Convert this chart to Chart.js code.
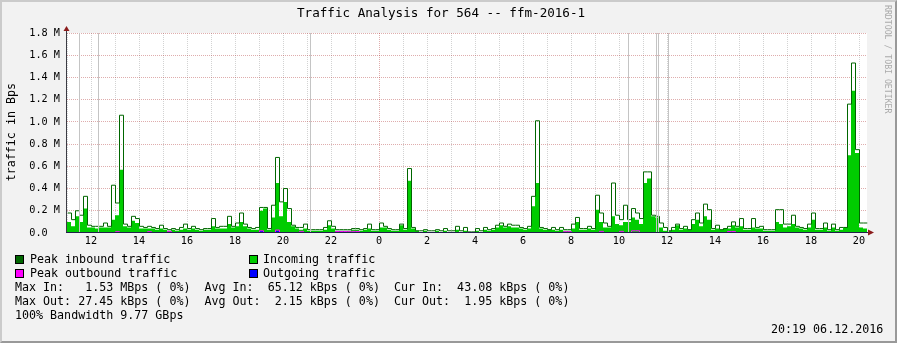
<!DOCTYPE html>
<html>
<head>
<meta charset="utf-8">
<script src="https://cdn.jsdelivr.net/npm/chart.js@4.4.1/dist/chart.umd.min.js"></script>
<style>
body { margin: 0; }
#wrap { position: relative; width: 897px; height: 343px; background: #f2f2f2; overflow: hidden;
        font-family: 'DejaVu Sans Mono', monospace; }
#wrap canvas { position: absolute; left: 0; top: 0; }
.t { position: absolute; white-space: pre; color: #000; font-size: 11.66px; line-height: 14px; }
.sw { position: absolute; width: 7px; height: 7px; border: 1px solid #000; }
#frame { position: absolute; left: 0; top: 0; width: 897px; height: 343px; box-sizing: border-box;
         border-top: 2px solid #cbcbcb; border-left: 2px solid #cbcbcb;
         border-right: 2px solid #999; border-bottom: 2px solid #999; pointer-events: none; }
</style>
</head>
<body>
<div id="wrap">
<canvas id="traffic" width="897" height="343"></canvas>
<div class="t" style="left:297px;top:5px;font-size:12.6px;line-height:16px;">Traffic Analysis for 564 -- ffm-2016-1</div>
<div class="t" style="left:4px;top:83px;writing-mode:vertical-rl;transform:rotate(180deg);">traffic in Bps</div>
<div class="t" style="left:883px;top:5px;writing-mode:vertical-rl;font-size:8.2px;line-height:10px;color:#aaa;">RRDTOOL / TOBI OETIKER</div>

<div class="sw" style="left:15px;top:255px;background:#006600;"></div>
<div class="t" style="left:30px;top:252px;">Peak inbound traffic</div>
<div class="sw" style="left:249px;top:255px;background:#00cc00;"></div>
<div class="t" style="left:263px;top:252px;">Incoming traffic</div>
<div class="sw" style="left:15px;top:269px;background:#ff00ff;"></div>
<div class="t" style="left:30px;top:266px;">Peak outbound traffic</div>
<div class="sw" style="left:249px;top:269px;background:#0000ff;"></div>
<div class="t" style="left:263px;top:266px;">Outgoing traffic</div>
<div class="t" style="left:15px;top:280px;">Max In:   1.53 MBps ( 0%)  Avg In:  65.12 kBps ( 0%)  Cur In:  43.08 kBps ( 0%)</div>
<div class="t" style="left:15px;top:294px;">Max Out: 27.45 kBps ( 0%)  Avg Out:  2.15 kBps ( 0%)  Cur Out:  1.95 kBps ( 0%)</div>
<div class="t" style="left:15px;top:308px;">100% Bandwidth 9.77 GBps</div>
<div class="t" style="left:771px;top:322px;">20:19 06.12.2016</div>
<div id="frame"></div>
</div>
<script>
// time axis: hours since midnight of the first day, one sample every 10 minutes
var startHour = 11;
var stepHour = 1 / 6;

// kBps, one value per sample
var peakIn = [
  180,120,200,160,330,70,60,60,60,90, 60,430,270,1060,80,60,150,130,60,50,
  60,50,40,70,40,30,40,30,50,80, 40,60,40,30,40,40,130,50,60,60,
  150,60,90,180,80,50,40,50,230,230, 40,250,680,280,400,220,70,50,50,80,
  30,30,30,30,50,110,60,30,30,30, 30,40,40,30,40,80,30,30,90,60,
  40,30,30,80,40,580,50,20,20,30, 20,20,30,20,40,20,20,60,20,50,
  10,10,40,20,50,30,40,70,90,60, 80,70,70,50,40,60,330,1010,50,40,
  30,50,30,50,30,30,80,140,40,40, 60,40,340,180,90,60,450,160,120,250,
  120,220,180,130,550,550,160,150,90,50, 20,50,80,40,60,30,120,180,90,260,
  210,40,70,30,40,60,100,60,130,40, 40,130,50,60,30,30,30,210,210,80,
  80,160,60,50,40,80,180,40,40,90, 30,80,30,50,50,1160,1530,750,90,90
];
var avgIn = [
  100,60,150,100,220,50,50,40,50,50, 50,120,160,570,60,50,110,90,40,40,
  40,40,30,40,30,20,30,20,30,40, 30,40,30,20,30,30,60,40,40,40,
  80,50,60,100,60,40,30,30,200,220, 30,140,450,150,280,100,60,40,30,40,
  20,20,20,20,30,70,40,20,20,20, 20,30,30,20,30,40,20,20,50,50,
  30,20,20,70,30,470,40,20,10,20, 10,10,20,10,20,10,10,30,10,20,
  10,10,20,10,30,20,30,50,70,50, 60,50,50,40,30,40,240,450,40,30,
  30,30,20,30,20,20,40,100,30,30, 40,30,210,100,50,50,150,80,70,100,
  100,140,120,80,450,490,150,140,50,20, 20,30,70,30,40,30,80,120,60,150,
  120,30,40,30,40,40,70,50,60,30, 30,50,40,40,20,20,20,100,80,50,
  60,80,50,40,30,50,120,30,30,50, 20,50,20,30,50,700,1280,720,50,40
];
var avgOut = [
  2,2,2,2,2,2,2,2,2,2,2,2,10,2,2,2,2,2,2,2,
  10,2,2,2,2,2,2,2,2,2,2,2,2,2,2,2,2,2,2,2,
  2,2,2,2,2,2,2,2,18,2,2,2,18,2,2,2,2,2,2,2,
  2,2,2,2,2,2,2,12,12,12,2,10,12,2,2,2,2,2,2,2,
  2,2,2,2,2,2,2,2,2,2,2,2,2,2,2,2,2,2,2,2,
  2,2,2,2,2,2,2,2,2,2,2,2,2,2,2,2,2,2,2,2,
  2,2,2,2,10,10,2,2,2,2,2,2,2,12,2,2,2,2,2,2,
  2,2,2,2,2,2,2,2,2,2,2,2,2,2,2,2,2,2,2,2,
  2,2,2,2,2,12,12,2,2,2,2,2,2,2,2,2,2,2,2,2,
  2,2,2,2,2,2,2,2,2,2,2,2,2,2,2,2,2,2,2,2
];
var peakOut = [
  3,3,3,3,3,3,3,3,3,3,3,3,12,3,3,3,3,3,3,3,
  12,3,3,3,3,15,3,3,3,3,3,3,3,3,3,3,3,3,3,3,
  3,3,3,3,3,3,3,3,20,3,3,3,27,3,3,3,3,3,15,3,
  3,3,3,3,3,3,3,14,14,14,15,15,14,3,3,3,3,3,3,3,
  3,3,3,3,3,3,3,3,3,3,3,3,3,3,3,3,3,3,3,3,
  3,3,3,3,3,3,3,3,3,3,3,3,3,3,3,3,3,3,3,3,
  3,3,3,3,12,12,3,3,3,3,3,3,3,15,3,3,3,3,15,3,
  3,20,20,3,3,3,3,3,3,3,3,3,3,3,3,3,3,3,3,3,
  3,3,3,3,3,14,14,3,3,3,3,3,3,3,3,3,3,3,3,3,
  3,3,3,3,3,3,3,3,3,3,3,3,3,3,3,3,3,3,3,3
];
// hours where the grey vertical marks are
var markHours = [11.521, 12.354, 21.146, 34.396, 35.604, 35.646, 36.104];

var mono = "'DejaVu Sans Mono', monospace";
var minorGrid = 'rgba(140,140,140,0.38)';
var majorGrid = 'rgba(170,40,40,0.38)';

function toPoints(vals) {
  var pts = vals.map(function (v, i) { return { x: startHour + i * stepHour, y: v }; });
  pts.push({ x: startHour + vals.length * stepHour, y: vals[vals.length - 1] });
  return pts;
}

var rrdFrame = {
  id: 'rrdFrame',
  beforeDraw: function (chart) {
    var ctx = chart.ctx, a = chart.chartArea;
    ctx.save();
    ctx.fillStyle = '#ffffff';
    ctx.fillRect(a.left, a.top, a.right - a.left, a.bottom - a.top);
    ctx.restore();
  },
  // keep the 1px peak lines on whole pixel columns
  beforeDatasetDraw: function (chart, args) {
    if (chart.data.datasets[args.index].fill === false) {
      chart.ctx.save();
      chart.ctx.translate(0.5, 0);
    }
  },
  afterDatasetDraw: function (chart, args) {
    if (chart.data.datasets[args.index].fill === false) chart.ctx.restore();
  },
  afterDatasetsDraw: function (chart) {
    var ctx = chart.ctx, a = chart.chartArea, x = chart.scales.x;
    ctx.save();
    ctx.lineWidth = 1;
    ctx.strokeStyle = '#c4c4c4';
    markHours.forEach(function (h) {
      var px = Math.round(x.getPixelForValue(h)) - 0.5;
      ctx.beginPath(); ctx.moveTo(px, a.top); ctx.lineTo(px, a.bottom - 1); ctx.stroke();
    });
    // axes
    ctx.strokeStyle = '#3c3c44';
    ctx.beginPath(); ctx.moveTo(a.left - 0.5, a.bottom); ctx.lineTo(a.left - 0.5, a.top - 2); ctx.stroke();
    ctx.strokeStyle = '#20204a';
    ctx.beginPath(); ctx.moveTo(a.left - 1, a.bottom - 0.5); ctx.lineTo(a.right + 2, a.bottom - 0.5); ctx.stroke();
    // arrows
    ctx.fillStyle = '#8b1c1c';
    ctx.beginPath();
    ctx.moveTo(a.left - 0.5, a.top - 7); ctx.lineTo(a.left - 3.5, a.top - 2); ctx.lineTo(a.left + 2.5, a.top - 2);
    ctx.closePath(); ctx.fill();
    ctx.beginPath();
    ctx.moveTo(a.right + 7, a.bottom - 0.5); ctx.lineTo(a.right + 1, a.bottom - 3.5); ctx.lineTo(a.right + 1, a.bottom + 2.5);
    ctx.closePath(); ctx.fill();
    ctx.restore();
  }
};

new Chart(document.getElementById('traffic'), {
  type: 'line',
  data: {
    datasets: [
      { label: 'Peak inbound traffic', data: toPoints(peakIn), borderColor: '#006600', borderWidth: 1,
        stepped: true, fill: false, pointRadius: 0, order: 0 },
      { label: 'Peak outbound traffic', data: toPoints(peakOut), borderColor: '#ff00ff', borderWidth: 1,
        stepped: true, fill: false, pointRadius: 0, order: 1 },
      { label: 'Outgoing traffic', data: toPoints(avgOut), borderColor: 'rgba(0,0,0,0)', borderWidth: 0,
        backgroundColor: '#0000ff', stepped: true, fill: 'origin', pointRadius: 0, order: 2 },
      { label: 'Incoming traffic', data: toPoints(avgIn), borderColor: 'rgba(0,0,0,0)', borderWidth: 0,
        backgroundColor: '#00cc00', stepped: true, fill: 'origin', pointRadius: 0, order: 3 }
    ]
  },
  options: {
    responsive: false,
    animation: false,
    devicePixelRatio: 1,
    layout: { padding: { left: 0, top: 33, right: 30, bottom: 0 } },
    plugins: { legend: { display: false }, tooltip: { enabled: false } },
    scales: {
      x: {
        type: 'linear',
        min: startHour,
        max: startHour + peakIn.length * stepHour,
        afterFit: function (s) { s.height = 110; },
        ticks: {
          stepSize: 1, includeBounds: false, autoSkip: false, maxRotation: 0, maxTicksLimit: 100,
          padding: 2, color: '#000', font: { family: mono, size: 10.2 },
          callback: function (v) { return v % 2 === 0 ? String(v % 24) : ''; }
        },
        grid: {
          drawTicks: false,
          color: function (c) { return c.tick && c.tick.value % 24 === 0 ? majorGrid : minorGrid; }
        },
        border: { display: false, dash: [1, 1] }
      },
      y: {
        min: 0,
        max: 1800,
        afterFit: function (s) { s.width = 67; },
        ticks: {
          stepSize: 100, maxTicksLimit: 100, padding: 7, color: '#000', font: { family: mono, size: 10.2 },
          callback: function (v) {
            if (v % 200 !== 0) return '';
            return v === 0 ? '0.0  ' : (v / 1000).toFixed(1) + ' M';
          }
        },
        grid: {
          drawTicks: false,
          color: function (c) {
            if (!c.tick || c.tick.value === 0) return 'rgba(0,0,0,0)';
            return c.tick.value % 200 === 0 ? majorGrid : minorGrid;
          }
        },
        border: { display: false, dash: [1, 1] }
      }
    }
  },
  plugins: [rrdFrame]
});
</script>
</body>
</html>
